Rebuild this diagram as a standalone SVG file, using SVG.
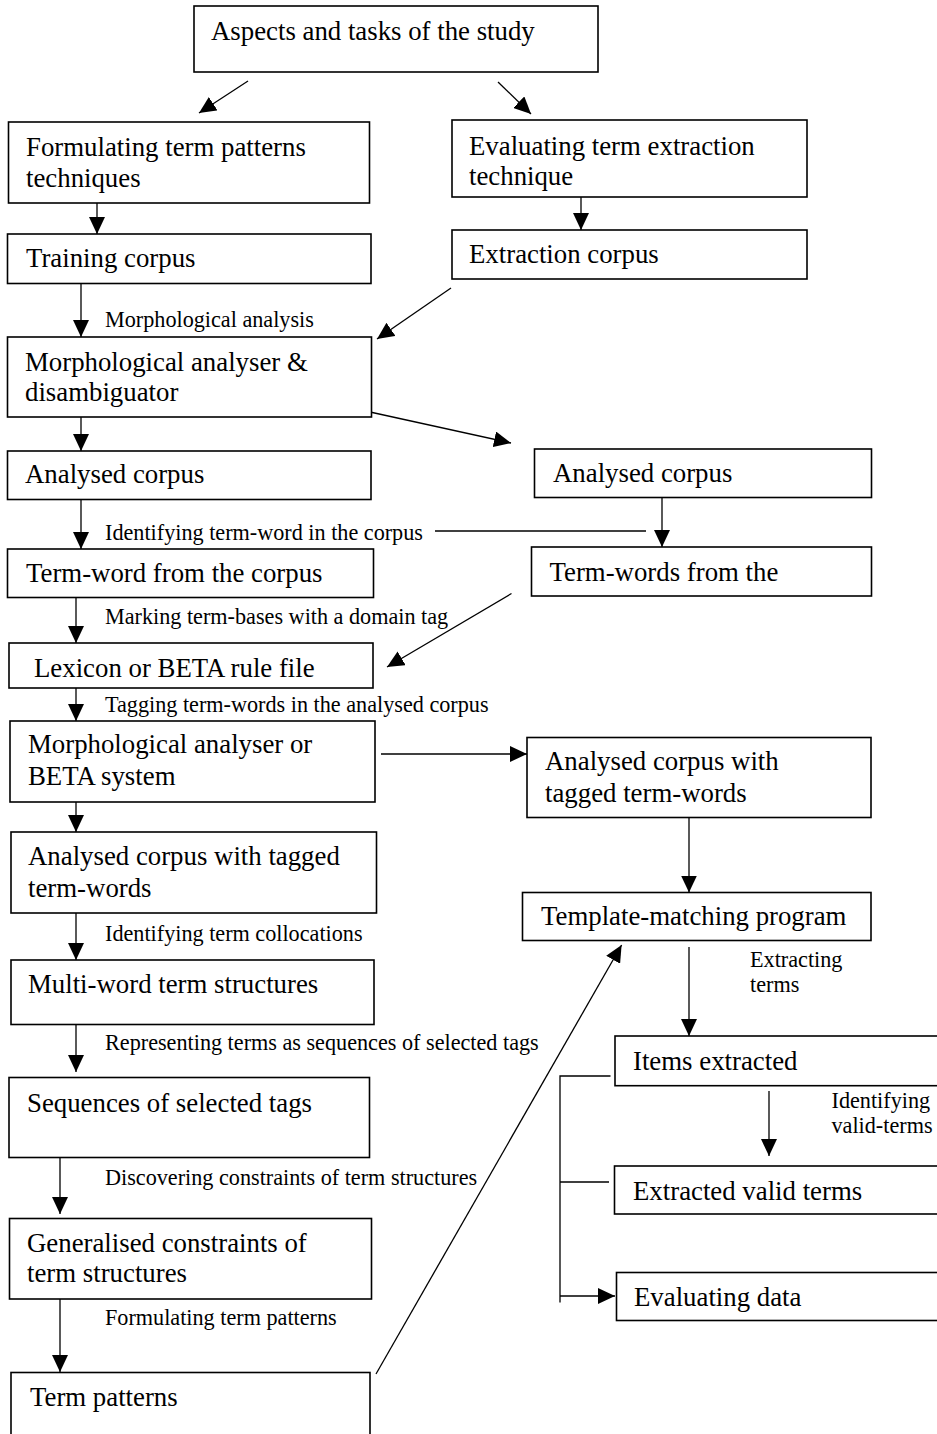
<svg xmlns="http://www.w3.org/2000/svg" width="937" height="1434" viewBox="0 0 937 1434">
<defs>
<style>
.box{fill:#fff;stroke:#000;stroke-width:1.6}
.t{font-family:"Liberation Serif","Times New Roman",serif;font-size:26.8px;fill:#000}
.s{font-family:"Liberation Serif","Times New Roman",serif;font-size:22.2px;fill:#000}
.c{fill:none;stroke:#000;stroke-width:1.3}
</style>
<marker id="ah" viewBox="0 0 17 16" refX="17" refY="8" markerWidth="17" markerHeight="16" markerUnits="userSpaceOnUse" orient="auto"><path d="M0,0 L17,8 L0,16 z" fill="#000"/></marker>
</defs>
<rect width="937" height="1434" fill="#fff"/>

<g id="connectors">
<line class="c" x1="248" y1="81" x2="199" y2="113" marker-end="url(#ah)"/>
<line class="c" x1="498" y1="82" x2="531" y2="114" marker-end="url(#ah)"/>
<line class="c" x1="97" y1="203" x2="97" y2="234" marker-end="url(#ah)"/>
<line class="c" x1="581" y1="197" x2="581" y2="230" marker-end="url(#ah)"/>
<line class="c" x1="81" y1="284" x2="81" y2="337" marker-end="url(#ah)"/>
<line class="c" x1="451" y1="288" x2="377" y2="339" marker-end="url(#ah)"/>
<line class="c" x1="370" y1="412" x2="511" y2="443" marker-end="url(#ah)"/>
<line class="c" x1="81" y1="417" x2="81" y2="451" marker-end="url(#ah)"/>
<line class="c" x1="81" y1="499.5" x2="81" y2="549" marker-end="url(#ah)"/>
<line class="c" x1="662" y1="497.5" x2="662" y2="547" marker-end="url(#ah)"/>
<line class="c" x1="435" y1="531" x2="646" y2="531"/>
<line class="c" x1="76" y1="593" x2="76" y2="643" marker-end="url(#ah)"/>
<line class="c" x1="511.5" y1="593.5" x2="387" y2="667" marker-end="url(#ah)"/>
<line class="c" x1="76" y1="688" x2="76" y2="721" marker-end="url(#ah)"/>
<line class="c" x1="381" y1="754" x2="527" y2="754" marker-end="url(#ah)"/>
<line class="c" x1="76" y1="802" x2="76" y2="832" marker-end="url(#ah)"/>
<line class="c" x1="689" y1="818" x2="689" y2="892.5" marker-end="url(#ah)"/>
<line class="c" x1="76" y1="913" x2="76" y2="960" marker-end="url(#ah)"/>
<line class="c" x1="689" y1="947" x2="689" y2="1036" marker-end="url(#ah)"/>
<line class="c" x1="76" y1="1023" x2="76" y2="1072" marker-end="url(#ah)"/>
<line class="c" x1="60" y1="1149" x2="60" y2="1214" marker-end="url(#ah)"/>
<line class="c" x1="60" y1="1293" x2="60" y2="1372" marker-end="url(#ah)"/>
<line class="c" x1="376" y1="1374" x2="621.6" y2="945" marker-end="url(#ah)"/>
<line class="c" x1="769" y1="1091" x2="769" y2="1156" marker-end="url(#ah)"/>
<path class="c" d="M610.5,1076 H560 V1302.5 M560,1182 H609"/>
<line class="c" x1="560" y1="1296" x2="615" y2="1296" marker-end="url(#ah)"/>
</g>

<g id="labels">
<text class="s" x="105" y="327">Morphological analysis</text>
<text class="s" x="105" y="539.5">Identifying term-word in the corpus</text>
<text class="s" x="105" y="623.5">Marking term-bases with a domain tag</text>
<text class="s" x="105" y="711.5">Tagging term-words in the analysed corpus</text>
<text class="s" x="105" y="941">Identifying term collocations</text>
<text class="s" x="105" y="1049.5">Representing terms as sequences of selected tags</text>
<text class="s" x="105" y="1185">Discovering constraints of term structures</text>
<text class="s" x="105" y="1325">Formulating term patterns</text>
<text class="s" x="750" y="967">Extracting</text>
<text class="s" x="750" y="992">terms</text>
<text class="s" x="831.5" y="1108">Identifying</text>
<text class="s" x="831.5" y="1133">valid-terms</text>
</g>

<g id="n_aspects"><rect class="box" x="194" y="6" width="404" height="66"/><text class="t" x="211" y="40">Aspects and tasks of the study</text></g>
<g id="n_formulating"><rect class="box" x="8.5" y="122" width="361" height="81"/><text class="t" x="26" y="156">Formulating term patterns</text><text class="t" x="26" y="187">techniques</text></g>
<g id="n_evaluating"><rect class="box" x="452" y="120" width="355" height="77"/><text class="t" x="469" y="155">Evaluating term extraction</text><text class="t" x="469" y="185">technique</text></g>
<g id="n_training"><rect class="box" x="7.5" y="234" width="363.5" height="49.5"/><text class="t" x="26" y="267">Training corpus</text></g>
<g id="n_extraction"><rect class="box" x="452" y="230" width="355" height="49"/><text class="t" x="469" y="263">Extraction corpus</text></g>
<g id="n_morph1"><rect class="box" x="7.5" y="337" width="364" height="80"/><text class="t" x="25" y="371">Morphological analyser &amp;</text><text class="t" x="25" y="401">disambiguator</text></g>
<g id="n_analysed_l"><rect class="box" x="7.5" y="451" width="363.5" height="48.5"/><text class="t" x="25" y="483">Analysed corpus</text></g>
<g id="n_analysed_r"><rect class="box" x="534.5" y="449" width="337" height="48.5"/><text class="t" x="553" y="482">Analysed corpus</text></g>
<g id="n_termword_l"><rect class="box" x="7.5" y="549" width="366" height="48.5"/><text class="t" x="26" y="582">Term-word from the corpus</text></g>
<g id="n_termwords_r"><rect class="box" x="531.5" y="547" width="340" height="49"/><text class="t" x="549.5" y="581">Term-words from the</text></g>
<g id="n_lexicon"><rect class="box" x="9" y="643" width="364" height="45"/><text class="t" x="34" y="677">Lexicon or BETA rule file</text></g>
<g id="n_morph2"><rect class="box" x="10" y="721" width="365" height="81"/><text class="t" x="28" y="753">Morphological analyser or</text><text class="t" x="28" y="785">BETA system</text></g>
<g id="n_acwt_r"><rect class="box" x="527" y="737.5" width="344" height="80"/><text class="t" x="545" y="770">Analysed corpus with</text><text class="t" x="545" y="802">tagged term-words</text></g>
<g id="n_acwt_l"><rect class="box" x="11" y="832" width="365.5" height="81"/><text class="t" x="28" y="865">Analysed corpus with tagged</text><text class="t" x="28" y="897">term-words</text></g>
<g id="n_template"><rect class="box" x="522.5" y="892.5" width="348.5" height="48"/><text class="t" x="541" y="925">Template-matching program</text></g>
<g id="n_multi"><rect class="box" x="11" y="960" width="363" height="64.5"/><text class="t" x="28" y="993">Multi-word term structures</text></g>
<g id="n_items"><rect class="box" x="615" y="1036" width="340" height="49.7"/><text class="t" x="633" y="1070">Items extracted</text></g>
<g id="n_sequences"><rect class="box" x="9" y="1077.5" width="360.5" height="80"/><text class="t" x="27" y="1112">Sequences of selected tags</text></g>
<g id="n_extracted_valid"><rect class="box" x="614.5" y="1166" width="340" height="48"/><text class="t" x="633" y="1200">Extracted valid terms</text></g>
<g id="n_generalised"><rect class="box" x="9.5" y="1218.5" width="362" height="80.5"/><text class="t" x="27" y="1252">Generalised constraints of</text><text class="t" x="27" y="1282">term structures</text></g>
<g id="n_evaluating_data"><rect class="box" x="616.5" y="1272.5" width="340" height="48"/><text class="t" x="634" y="1306">Evaluating data</text></g>
<g id="n_term_patterns"><rect class="box" x="11" y="1372.5" width="359" height="80"/><text class="t" x="30" y="1405.5">Term patterns</text></g>
</svg>
